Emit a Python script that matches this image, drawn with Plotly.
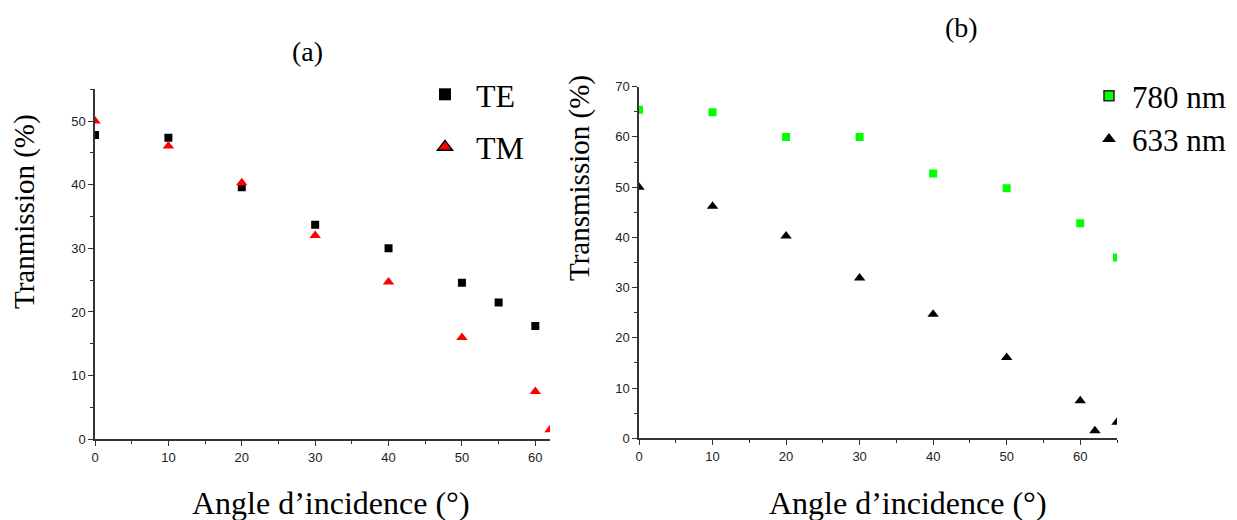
import plotly.graph_objects as go

# ---- data ----
angle_te = [0, 10, 20, 30, 40, 50, 55, 60]
te = [47.8, 47.4, 39.6, 33.7, 30.0, 24.6, 21.5, 17.8]
angle_tm = [0, 10, 20, 30, 40, 50, 60, 62]
tm = [50.0, 46.1, 40.3, 32.0, 24.7, 16.0, 7.5, 1.5]

angle_780 = [0, 10, 20, 30, 40, 50, 60, 65]
t780 = [65.4, 64.9, 60.0, 60.0, 52.7, 49.8, 42.8, 36.0]
angle_633 = [0, 10, 20, 30, 40, 50, 60, 62, 65]
t633 = [50.0, 46.2, 40.3, 31.9, 24.7, 16.1, 7.5, 1.5, 3.2]

W, H = 1237, 520
SERIF = "Liberation Serif, Times New Roman, serif"
SANS = "Liberation Sans, Arial, sans-serif"

fig = go.Figure()

# data traces panel (a)
fig.add_trace(go.Scatter(x=angle_te, y=te, mode="markers", xaxis="x", yaxis="y",
                         marker=dict(symbol="square", size=8, color="black", line=dict(width=0)),
                         showlegend=False))
fig.add_trace(go.Scatter(x=angle_tm, y=tm, mode="markers", xaxis="x", yaxis="y",
                         marker=dict(symbol="triangle-up", size=10, color="red", line=dict(width=0)),
                         showlegend=False))
# data traces panel (b)
fig.add_trace(go.Scatter(x=angle_780, y=t780, mode="markers", xaxis="x2", yaxis="y2",
                         marker=dict(symbol="square", size=8, color="#00ff00", line=dict(width=0)),
                         showlegend=False))
fig.add_trace(go.Scatter(x=angle_633, y=t633, mode="markers", xaxis="x2", yaxis="y2",
                         marker=dict(symbol="triangle-up", size=10, color="black", line=dict(width=0)),
                         showlegend=False))

# legend-only entries
fig.add_trace(go.Scatter(x=[None], y=[None], mode="markers", name="TE", legend="legend",
                         legendgroup="te", xaxis="x", yaxis="y",
                         marker=dict(symbol="square", size=12, color="black")))
fig.add_trace(go.Scatter(x=[None], y=[None], mode="markers", name="TM", legend="legend",
                         legendgroup="tm", xaxis="x", yaxis="y",
                         marker=dict(symbol="triangle-up", size=13, color="red",
                                     line=dict(width=1.5, color="black"))))
fig.add_trace(go.Scatter(x=[None], y=[None], mode="markers", name="780 nm", legend="legend2",
                         legendgroup="g780", xaxis="x2", yaxis="y2",
                         marker=dict(symbol="square", size=10, color="#00ff00",
                                     line=dict(width=1.5, color="#222"))))
fig.add_trace(go.Scatter(x=[None], y=[None], mode="markers", name="633 nm", legend="legend2",
                         legendgroup="g633", xaxis="x2", yaxis="y2",
                         marker=dict(symbol="triangle-up", size=12, color="black")))

axis_common = dict(
    showline=True, linecolor="#333", linewidth=1.5, mirror=False,
    showgrid=False, zeroline=False, automargin=False,
    ticks="outside", ticklen=5, tickwidth=1.3, tickcolor="#333",
    tickfont=dict(family=SANS, size=13, color="#222"),
)
minor = dict(ticks="outside", ticklen=3, dtick=5, tickcolor="#333", tickwidth=1.2)

def ann(text, x, y, size, angle=0):
    return dict(text=text, x=x / W, y=1 - y / H, xref="paper", yref="paper",
                xanchor="center", yanchor="middle", textangle=angle,
                showarrow=False, font=dict(family=SERIF, size=size, color="black"))

fig.update_layout(
    width=W, height=H,
    margin=dict(l=0, r=0, t=0, b=0, pad=0),
    paper_bgcolor="white", plot_bgcolor="white",
    xaxis=dict(domain=[95 / W, 550 / W], range=[0, 62], dtick=10, anchor="y",
               minor=minor, **axis_common),
    yaxis=dict(domain=[1 - 439.2 / H, 1 - 89.3 / H], range=[0, 55], dtick=10, anchor="x",
               minor=minor, **axis_common),
    xaxis2=dict(domain=[639 / W, 1117 / W], range=[0, 65], dtick=10, anchor="y2",
                minor=minor, **axis_common),
    yaxis2=dict(domain=[1 - 438.3 / H, 1 - 86.7 / H], range=[0, 70], dtick=10, anchor="x2",
                minor=minor, **axis_common),
    legend=dict(x=414 / W, y=1 - 67 / H, xanchor="left", yanchor="top",
                font=dict(family=SERIF, size=32, color="black"), itemwidth=52,
                bgcolor="rgba(0,0,0,0)", tracegroupgap=8, itemsizing="trace"),
    legend2=dict(x=1086 / W, y=1 - 69 / H, xanchor="left", yanchor="top",
                 font=dict(family=SERIF, size=31, color="black"), itemwidth=36,
                 bgcolor="rgba(0,0,0,0)", tracegroupgap=0, itemsizing="trace"),
    annotations=[
        ann("(a)", 307, 52, 28),
        ann("(b)", 961, 27, 28),
        ann("Tranmission (%)", 24, 212, 29, -90),
        ann("Transmission (%)", 579, 178, 29, -90),
        ann("Angle d’incidence (°)", 331, 503, 32),
        ann("Angle d’incidence (°)", 908, 503, 32),
    ],
)

fig.write_html("out.html", config={"displayModeBar": False},
               post_script="document.body.style.margin='0';document.body.style.overflow='hidden';")
